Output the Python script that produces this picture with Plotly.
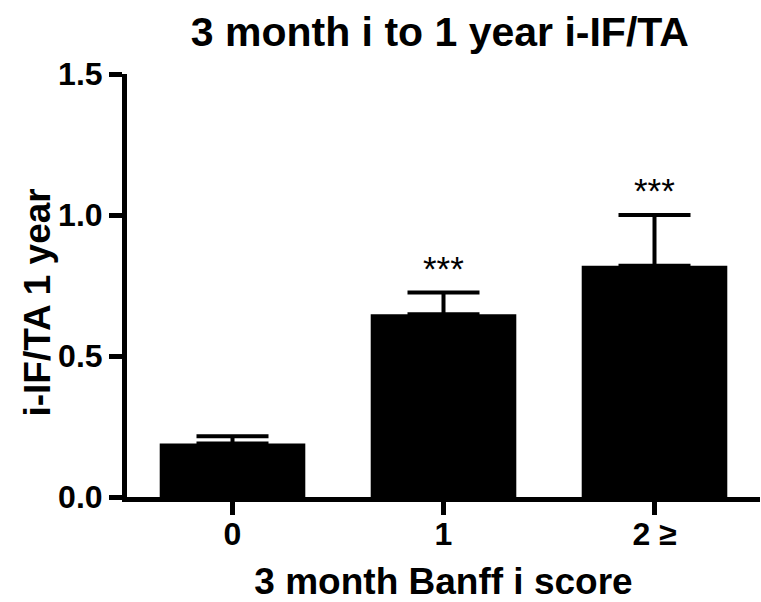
import plotly.graph_objects as go

# Group means and upper SEM per 3-month Banff i score
categories = ["0", "1", "2 ≥"]
means = [0.19, 0.648, 0.82]
sem = [0.025, 0.077, 0.18]
significance = ["", "***", "***"]

FONT = "Liberation Sans, Arial, sans-serif"

fig = go.Figure()
fig.add_trace(go.Bar(
    x=categories,
    y=means,
    width=0.69,
    marker=dict(color="black", line=dict(width=0)),
    error_y=dict(
        type="data",
        symmetric=False,
        array=sem,
        arrayminus=[0] * len(sem),
        color="black",
        thickness=4,
        width=36,
    ),
    showlegend=False,
))

# significance markers above the error bars
for cat, m, e, s in zip(categories, means, sem, significance):
    if s:
        fig.add_annotation(
            x=cat, y=m + e, text=s, showarrow=False,
            yanchor="bottom", yshift=3,
            font=dict(family=FONT, size=35, color="black"),
        )

# y-axis title, placed slightly below the plot-area centre
fig.add_annotation(
    text="<b>i-IF/TA 1 year</b>", textangle=-90,
    xref="paper", yref="paper", x=-0.142, y=0.46,
    xanchor="center", yanchor="middle", showarrow=False,
    font=dict(family=FONT, size=37, color="black"),
)

fig.update_layout(
    width=761,
    height=602,
    margin=dict(l=127, r=1, t=74, b=105),
    paper_bgcolor="white",
    plot_bgcolor="white",
    title=dict(
        text="<b>3 month i to 1 year i-IF/TA</b>",
        font=dict(family=FONT, size=41, color="black"),
        x=0.578, xanchor="center",
        y=0.948, yanchor="middle",
    ),
    xaxis=dict(
        range=[-0.5, 2.5],
        showline=True, linewidth=5, linecolor="black",
        ticks="outside", ticklen=13, tickwidth=5, tickcolor="black",
        ticklabelstandoff=-8,
        tickfont=dict(family=FONT, size=32, color="black", weight="bold"),
        showgrid=False, zeroline=False,
        title=dict(text="<b>3 month Banff i score</b>",
                   font=dict(family=FONT, size=37, color="black"),
                   standoff=20),
    ),
    yaxis=dict(
        range=[0, 1.5],
        tickvals=[0, 0.5, 1.0, 1.5],
        tickformat=".1f",
        showline=True, linewidth=5, linecolor="black",
        ticks="outside", ticklen=13, tickwidth=5, tickcolor="black",
        tickfont=dict(family=FONT, size=32, color="black", weight="bold"),
        showgrid=False, zeroline=False,
    ),
)

fig.write_html("out.html")
